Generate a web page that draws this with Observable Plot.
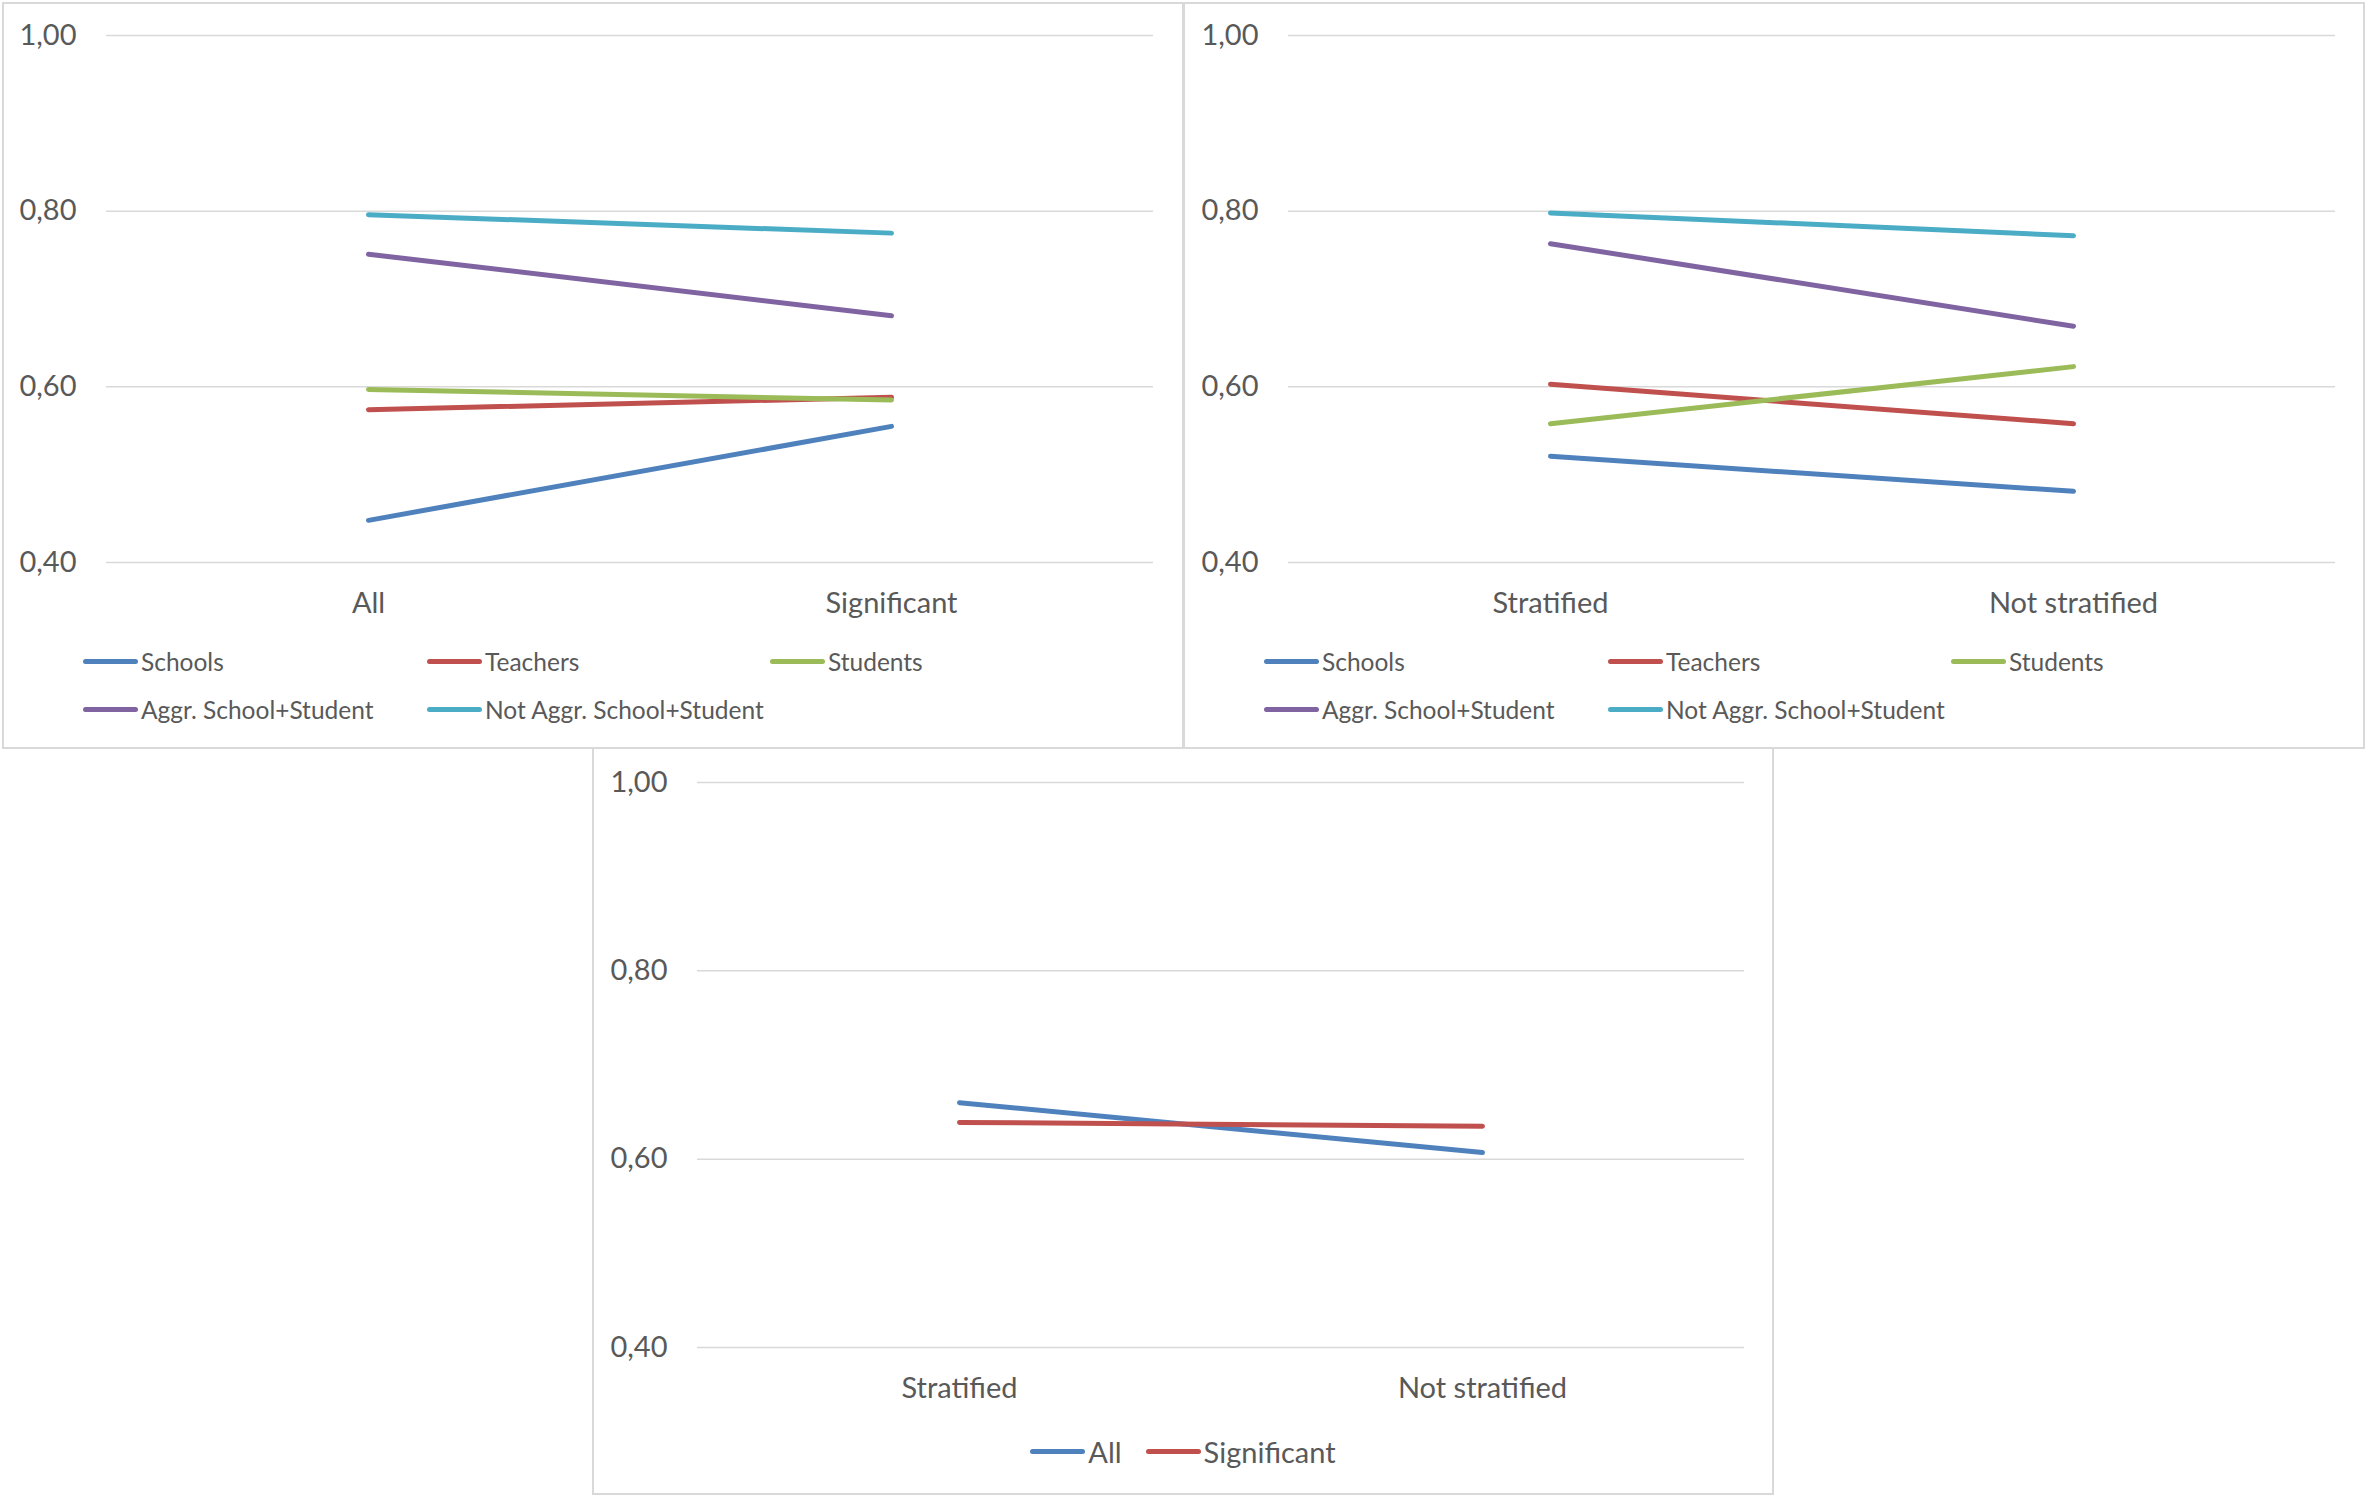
<!DOCTYPE html>
<html>
<head>
<meta charset="utf-8">
<script src="https://cdn.jsdelivr.net/npm/d3@7"></script>
<script src="https://cdn.jsdelivr.net/npm/@observablehq/plot@0.6"></script>
<style>
  html, body { margin: 0; padding: 0; background: #ffffff; }
  body { width: 2367px; height: 1499px; position: relative; font-family: Lato, "Open Sans", sans-serif; color: #595959; }
  .panel { position: absolute; box-sizing: border-box; border: 2px solid #d9d9d9; background: #fff; }
  .panel svg { display: block; }
  .legend { position: relative; font-size: 24.5px; color: #595959; }
  .row { position: relative; height: 48px; }
  .item { position: absolute; top: 0; height: 48px; display: flex; align-items: center; white-space: nowrap; }
  .item.inline { position: static; display: inline-flex; margin: 0 12px; }
  .sw { display: inline-block; width: 55px; height: 5px; border-radius: 3px; margin-right: 3px; }
</style>
</head>
<body>
<div id="p1" class="panel" style="left:2px;top:2px;width:1182px;height:747px;"></div>
<div id="p2" class="panel" style="left:1183px;top:2px;width:1182px;height:747px;"></div>
<div id="p3" class="panel" style="left:592px;top:747px;width:1182px;height:748px;"></div>
<script>
// ---- data ----
const categoriesA = ["All", "Significant"];
const categoriesB = ["Stratified", "Not stratified"];
const seriesFive = ["Schools", "Teachers", "Students", "Aggr. School+Student", "Not Aggr. School+Student"];
const colorsFive = ["#4f81bd", "#c0504d", "#9bbb59", "#8064a2", "#4bacc6"];
const seriesTwo = ["All", "Significant"];
const colorsTwo = ["#4f81bd", "#c0504d"];
const yTicks = [0.4, 0.6, 0.8, 1.0];

// panel 1 (All / Significant)
const p1Schools  = [0.448, 0.555];
const p1Teachers = [0.574, 0.588];
const p1Students = [0.597, 0.585];
const p1Aggr     = [0.751, 0.681];
const p1NotAggr  = [0.796, 0.775];

// panel 2 (Stratified / Not stratified)
const p2Schools  = [0.521, 0.481];
const p2Teachers = [0.603, 0.558];
const p2Students = [0.558, 0.623];
const p2Aggr     = [0.763, 0.669];
const p2NotAggr  = [0.798, 0.772];

// panel 3 (Stratified / Not stratified)
const p3All         = [0.660, 0.607];
const p3Significant = [0.639, 0.635];

// ---- drawing ----
const fmt = d => d.toFixed(2).replace(".", ",");

function makePlot(cats, names, colors, values, o) {
  const data = names.flatMap((s, i) => cats.map((c, j) => ({series: s, cat: c, value: values[i][j]})));
  return Plot.plot({
    width: 1178,
    height: o.height,
    marginLeft: o.ml,
    marginRight: 1178 - o.ml - 1047,
    marginTop: o.mt,
    marginBottom: o.mb,
    style: {fontFamily: "Lato, 'Open Sans', sans-serif", fontSize: "29px", color: "#595959", background: "transparent", overflow: "visible"},
    x: {type: "point", domain: cats, padding: 0.5, label: null},
    y: {domain: [0.4, 1.0], label: null},
    color: {domain: names, range: colors},
    marks: [
      Plot.gridY(yTicks, {stroke: "#d9d9d9", strokeOpacity: 1, strokeWidth: 1.5}),
      Plot.axisY(yTicks, {tickSize: 0, tickPadding: 30, tickFormat: fmt, label: null, fill: "#595959"}),
      Plot.axisX({tickSize: 0, tickPadding: 30, label: null, fill: "#595959"}),
      Plot.line(data, {x: "cat", y: "value", z: "series", stroke: "series", strokeWidth: 5, strokeLinecap: "round", strokeLinejoin: "round"})
    ]
  });
}

function gridLegend(names, colors) {
  const lg = document.createElement("div");
  lg.className = "legend";
  lg.style.paddingTop = "5px";
  const colX = [79, 423, 766];
  const rows = [names.slice(0, 3), names.slice(3)];
  let k = 0;
  rows.forEach(r => {
    const row = document.createElement("div");
    row.className = "row";
    r.forEach((n, j) => {
      const it = document.createElement("div");
      it.className = "item";
      it.style.left = colX[j] + "px";
      it.innerHTML = `<span class="sw" style="background:${colors[k]}"></span><span>${n}</span>`;
      row.appendChild(it);
      k++;
    });
    lg.appendChild(row);
  });
  return lg;
}

function centerLegend(names, colors) {
  const lg = document.createElement("div");
  lg.className = "legend";
  lg.style.paddingTop = "10px";
  lg.style.fontSize = "29px";
  const row = document.createElement("div");
  row.className = "row";
  row.style.display = "flex";
  row.style.justifyContent = "center";
  names.forEach((n, i) => {
    const it = document.createElement("div");
    it.className = "item inline";
    it.innerHTML = `<span class="sw" style="background:${colors[i]}"></span><span>${n}</span>`;
    row.appendChild(it);
  });
  lg.appendChild(row);
  return lg;
}

const p1 = document.getElementById("p1");
p1.appendChild(makePlot(categoriesA, seriesFive, colorsFive,
  [p1Schools, p1Teachers, p1Students, p1Aggr, p1NotAggr],
  {height: 628, ml: 102, mt: 31, mb: 70}));
p1.appendChild(gridLegend(seriesFive, colorsFive));

const p2 = document.getElementById("p2");
p2.appendChild(makePlot(categoriesB, seriesFive, colorsFive,
  [p2Schools, p2Teachers, p2Students, p2Aggr, p2NotAggr],
  {height: 628, ml: 103, mt: 31, mb: 70}));
p2.appendChild(gridLegend(seriesFive, colorsFive));

const p3 = document.getElementById("p3");
p3.appendChild(makePlot(categoriesB, seriesTwo, colorsTwo,
  [p3All, p3Significant],
  {height: 668, ml: 103, mt: 33, mb: 70}));
p3.appendChild(centerLegend(seriesTwo, colorsTwo));
</script>
</body>
</html>
